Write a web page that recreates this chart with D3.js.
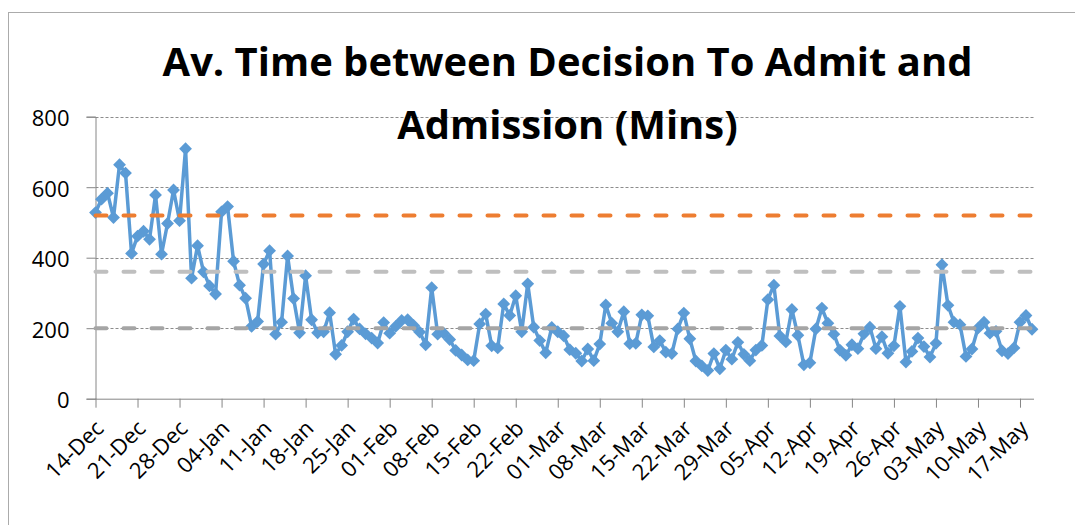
<!DOCTYPE html>
<html><head><meta charset="utf-8">
<script src="https://cdn.jsdelivr.net/npm/d3@7"></script>
<style>body{margin:0;background:#fff}svg{display:block}</style>
</head><body>
<svg id="c" width="1075" height="525"></svg>
<script>
// ---------- data ----------
const startDate = "2013-12-14";
const values = [
 528,566,583,514,664,640,412,461,475,452,578,410,497,592,505,709,342,434,360,320,
 297,530,545,390,322,285,205,219,382,420,183,217,405,284,187,349,224,187,190,244,
 126,151,190,226,198,184,172,158,216,186,205,222,224,208,189,153,315,183,186,168,
 137,124,110,108,212,240,150,144,269,236,292,190,326,203,165,130,202,190,178,139,
 129,107,141,108,155,266,214,190,247,156,157,238,235,147,165,132,128,198,243,170,
 107,93,80,128,85,138,112,160,126,108,138,151,281,322,178,161,253,180,96,102,
 198,257,214,183,138,123,153,142,184,203,142,176,129,150,262,104,134,172,148,118,
 157,380,265,217,210,120,141,200,217,186,191,136,128,144,217,236,197
];
const refValues = [520, 360, 200];
const refColors = ["#ED7D31", "#BFBFBF", "#A5A5A5"];
const tickLabels = ["14-Dec","21-Dec","28-Dec","04-Jan","11-Jan","18-Jan","25-Jan","01-Feb",
 "08-Feb","15-Feb","22-Feb","01-Mar","08-Mar","15-Mar","22-Mar","29-Mar","05-Apr","12-Apr",
 "19-Apr","26-Apr","03-May","10-May","17-May"];
const yTicks = [0,200,400,600,800];
const titleLines = ["Av. Time between Decision To Admit and", "Admission (Mins)"];

// ---------- setup ----------
const svg = d3.select("#c");
const start = d3.utcParse("%Y-%m-%d")(startDate);
const dates = values.map((v,i)=>d3.utcDay.offset(start,i));
const last = dates[dates.length-1];
const L = 95.5, R = 1034, T = 116.7, B = 398.7;
const x = d3.scaleUtc().domain([start, d3.utcHour.offset(last, 8)]).range([L, R]);
const y = d3.scaleLinear().domain([0,800]).range([B, T]);
const tickDates = tickLabels.map((l,i)=>d3.utcDay.offset(start, 7*i));
const font = "'Open Sans', sans-serif";

// border
svg.append("rect").attr("x",8.5).attr("y",12.5).attr("width",1200).attr("height",700)
  .attr("fill","none").attr("stroke","#ababab").attr("stroke-width",1);

// gridlines
svg.append("g").selectAll("line").data(yTicks.filter(d=>d>0)).join("line")
  .attr("x1",L).attr("x2",R).attr("y1",d=>Math.round(y(d))+0.5).attr("y2",d=>Math.round(y(d))+0.5)
  .attr("stroke","#8c8c8c").attr("stroke-width",1).attr("stroke-dasharray","3,2");

// y axis
const yAxis = d3.axisLeft(y).tickValues(yTicks).tickSize(9).tickPadding(17).tickFormat(d3.format("d"));
const gy = svg.append("g").attr("transform",`translate(${L},0)`).call(yAxis);
gy.select(".domain").attr("stroke","#868686");
gy.selectAll(".tick line").attr("stroke","#868686");
gy.selectAll(".tick text").attr("font-family",font).attr("font-size",22).attr("fill","#000").attr("dy","0.4em");

// x axis
const xAxis = d3.axisBottom(x).tickValues(tickDates).tickSize(9).tickFormat((d,i)=>tickLabels[i]);
const gx = svg.append("g").attr("transform",`translate(0,${B})`).call(xAxis);
gx.select(".domain").attr("stroke","#868686").attr("d",`M${L},0.5H${R}`);
gx.selectAll(".tick line").attr("stroke","#868686");
gx.selectAll(".tick text").attr("font-family",font).attr("font-size",22).attr("fill","#000")
  .attr("text-anchor","end").attr("y",0).attr("dy",0)
  .attr("transform","translate(9,31) rotate(-45)");

// series
const line = d3.line().x((d,i)=>x(dates[i])).y(d=>y(d));
svg.append("path").datum(values).attr("d",line).attr("fill","none")
  .attr("stroke","#5B9BD5").attr("stroke-width",3.5).attr("stroke-linejoin","round");
const sym = d3.symbol().type(d3.symbolSquare).size(82);
svg.append("g").selectAll("path").data(values).join("path")
  .attr("d",sym).attr("fill","#5B9BD5")
  .attr("transform",(d,i)=>`translate(${x(dates[i])},${y(d)}) rotate(45)`);

// reference lines
refValues.forEach((rv,k)=>{
  const rl = d3.line().x(d=>x(d)).y(()=>y(rv));
  svg.append("path").datum(dates).attr("d",rl).attr("fill","none")
    .attr("stroke",refColors[k]).attr("stroke-width",4)
    .attr("stroke-dasharray","11,17").attr("stroke-linecap","round");
});

// title
const cx = 567.5;
const t1 = svg.append("text").attr("x",cx).attr("y",76).attr("text-anchor","middle")
  .attr("font-family",font).attr("font-weight","bold").attr("font-size",40).attr("fill","#000")
  .text(titleLines[0]);
const w = t1.node().getComputedTextLength();
const fs = 40*810/w;
t1.attr("font-size",fs);
svg.append("text").attr("x",cx).attr("y",139).attr("text-anchor","middle")
  .attr("font-family",font).attr("font-weight","bold").attr("font-size",fs).attr("fill","#000")
  .text(titleLines[1]);
</script>
</body></html>
